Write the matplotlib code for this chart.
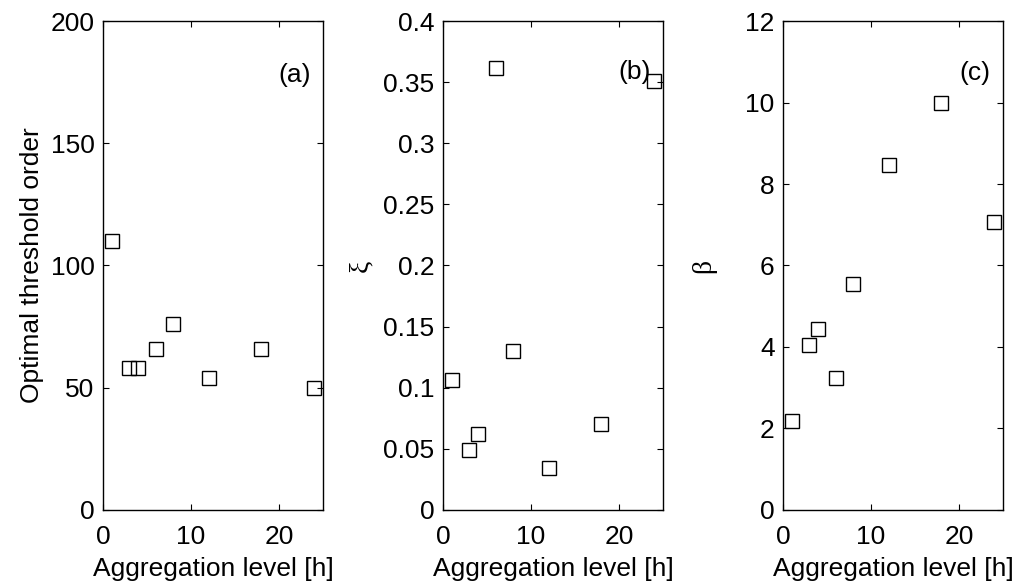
import matplotlib
matplotlib.use("Agg")
import matplotlib.pyplot as plt

# aggregation levels [h]
agg = [1, 3, 4, 6, 8, 12, 18, 24]
# (a) optimal threshold order
thresh = [110, 58, 58, 66, 76, 54, 66, 50]
# (b) shape parameter xi
xi = [0.106, 0.049, 0.062, 0.362, 0.130, 0.034, 0.070, 0.351]
# (c) scale parameter beta
beta = [2.18, 4.04, 4.43, 3.23, 5.54, 8.47, 9.98, 7.07]

plt.rcParams['font.family'] = ['Liberation Sans', 'DejaVu Sans']
plt.rcParams['font.size'] = 19

fig = plt.figure(figsize=(10.33, 5.86), dpi=100)

lefts = [0.0997, 0.4288, 0.758]
w, b, h = 0.213, 0.130, 0.834

panels = [
    (thresh, (0, 200), [0, 50, 100, 150, 200], ['0', '50', '100', '150', '200'],
     'Optimal threshold order', '(a)', 178, None, 5),
    (xi, (0, 0.4), [0, 0.05, 0.1, 0.15, 0.2, 0.25, 0.3, 0.35, 0.4],
     ['0', '0.05', '0.1', '0.15', '0.2', '0.25', '0.3', '0.35', '0.4'],
     '\u03be', '(b)', 0.358, 'Liberation Serif', 7),
    (beta, (0, 12), [0, 2, 4, 6, 8, 10, 12], ['0', '2', '4', '6', '8', '10', '12'],
     '\u03b2', '(c)', 10.72, 'Liberation Serif', 21),
]

for left, (vals, ylim, yt, ytl, ylab, tag, tag_y, labfont, lpad) in zip(lefts, panels):
    ax = fig.add_axes([left, b, w, h])
    ax.plot(agg, vals, 's', ms=9.5, mfc='none', mec='black', mew=1.0)
    ax.set_xlim(0, 25)
    ax.set_ylim(*ylim)
    ax.set_xticks([0, 10, 20])
    ax.set_xticklabels(['0', '10', '20'])
    ax.set_yticks(yt)
    ax.set_yticklabels(ytl)
    ax.tick_params(direction='in', top=True, right=True, length=4, width=0.8,
                   labelsize=19)
    ax.tick_params(axis='y', pad=6)
    ax.tick_params(axis='x', pad=11)
    for s in ax.spines.values():
        s.set_linewidth(1.0)
    ax.set_xlabel('Aggregation level [h]', fontsize=19, labelpad=6)
    if labfont:
        ax.set_ylabel(ylab, fontsize=20, family=[labfont, 'DejaVu Serif'], labelpad=lpad)
    else:
        ax.set_ylabel(ylab, fontsize=19, labelpad=lpad)
    ax.text(21.8, tag_y, tag, ha='center', va='center', fontsize=19)

fig.savefig('out.png', dpi=100)
